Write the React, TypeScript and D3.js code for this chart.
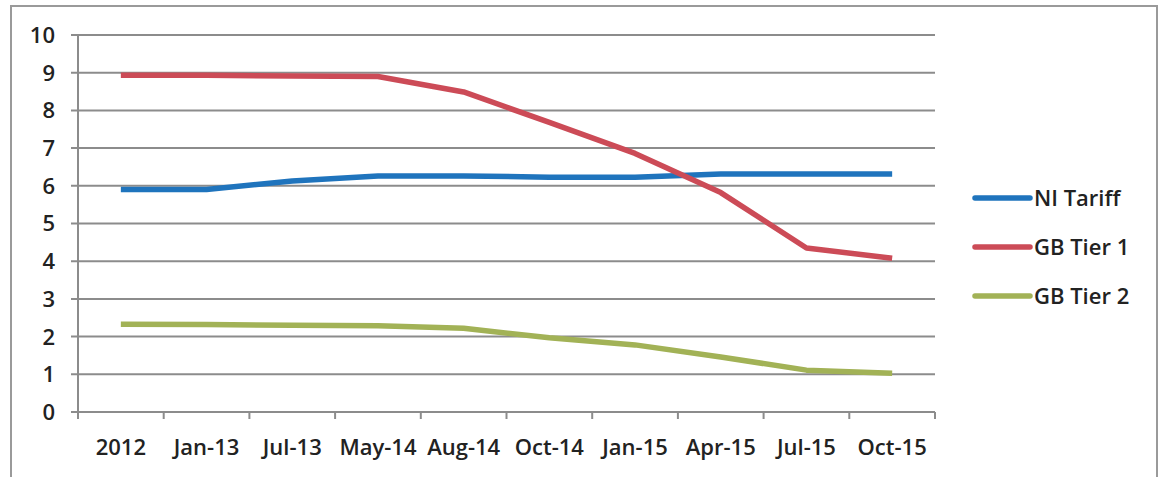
import React from "react";
import * as d3 from "d3";

const categories = ["2012", "Jan-13", "Jul-13", "May-14", "Aug-14", "Oct-14", "Jan-15", "Apr-15", "Jul-15", "Oct-15"];
const niTariff = [5.9, 5.9, 6.13, 6.26, 6.26, 6.23, 6.23, 6.31, 6.31, 6.31];
const gbTier1 = [8.93, 8.93, 8.91, 8.9, 8.49, 7.68, 6.86, 5.82, 4.35, 4.08];
const gbTier2 = [2.33, 2.32, 2.3, 2.29, 2.22, 1.97, 1.78, 1.46, 1.11, 1.03];
const yTicks = [0, 1, 2, 3, 4, 5, 6, 7, 8, 9, 10];

const seriesNames = ["NI Tariff", "GB Tier 1", "GB Tier 2"];
const seriesValues = [niTariff, gbTier1, gbTier2];
const seriesColors = ["#1f74bd", "#cc4b57", "#a2b256"];

const W = 1159;
const H = 477;
const left = 78;
const right = 935;
const top = 35;
const bottom = 412;

export default function App() {
  const x = d3.scaleBand<string>().domain(categories).range([left, right]).padding(0);
  const y = d3.scaleLinear().domain([0, 10]).range([bottom, top]);
  const line = d3
    .line<number>()
    .x((_, i) => (x(categories[i]) as number) + x.bandwidth() / 2)
    .y((d) => y(d));

  const font = "'Open Sans', 'DejaVu Sans', sans-serif";
  const textColor = "#222";
  const gridColor = "#8c8c8c";
  const boundaries = d3.range(categories.length + 1).map((i) => left + i * x.bandwidth());

  return (
    <svg
      width={W}
      height={H}
      style={{ position: "absolute", left: 0, top: 0, background: "#fff" }}
      fontFamily={font}
    >
      <rect x={11} y={6} width={1146} height={490} fill="#fff" stroke="#9a9a9a" strokeWidth={2} />
      {yTicks.map((t) => (
        <g key={t}>
          <line x1={left - 7} x2={right} y1={y(t)} y2={y(t)} stroke={gridColor} strokeWidth={2} />
          <text x={55} y={y(t)} dy="0.36em" textAnchor="end" fontSize={22} fontWeight={600} fill={textColor}>
            {t}
          </text>
        </g>
      ))}
      <line x1={left} x2={left} y1={top} y2={bottom + 7} stroke={gridColor} strokeWidth={2} />
      {boundaries.map((bx, i) => (
        <line key={i} x1={bx} x2={bx} y1={bottom} y2={bottom + 7} stroke={gridColor} strokeWidth={2} />
      ))}
      {categories.map((c) => (
        <text
          key={c}
          x={(x(c) as number) + x.bandwidth() / 2}
          y={455}
          textAnchor="middle"
          fontSize={22}
          fontWeight={600}
          fill={textColor}
        >
          {c}
        </text>
      ))}
      {seriesValues.map((vals, i) => (
        <path
          key={seriesNames[i]}
          d={line(vals) as string}
          fill="none"
          stroke={seriesColors[i]}
          strokeWidth={5.5}
          strokeLinejoin="round"
          strokeLinecap="butt"
        />
      ))}
      {seriesNames.map((n, i) => {
        const ly = 198 + i * 49;
        return (
          <g key={n}>
            <line x1={975} x2={1030} y1={ly} y2={ly} stroke={seriesColors[i]} strokeWidth={5.5} strokeLinecap="round" />
            <text x={1034} y={ly + 8} fontSize={22} fontWeight={600} fill={textColor}>
              {n}
            </text>
          </g>
        );
      })}
    </svg>
  );
}
